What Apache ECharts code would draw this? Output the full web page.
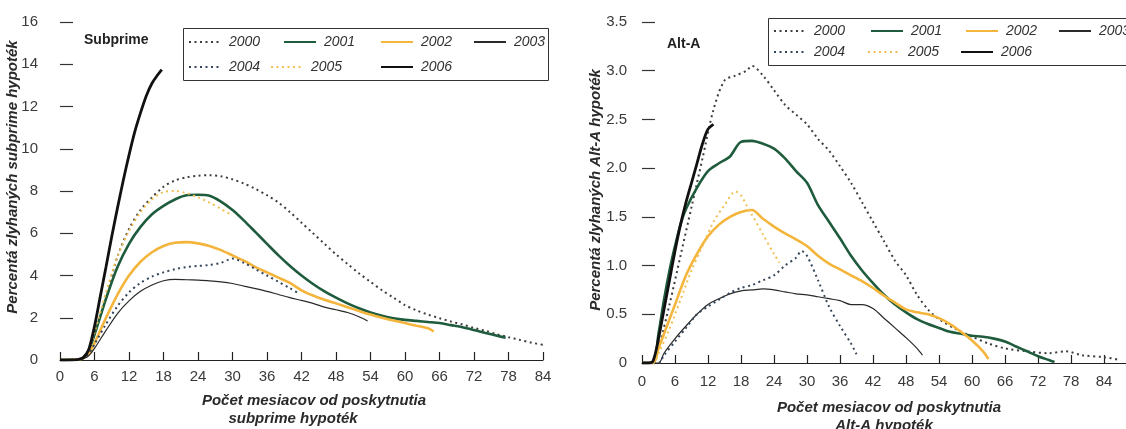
<!DOCTYPE html>
<html>
<head>
<meta charset="utf-8">
<script src="https://cdn.jsdelivr.net/npm/echarts@6/dist/echarts.min.js"></script>
<style>
  html, body { margin: 0; padding: 0; background: #fff; }
  #chart { width: 1126px; height: 429px; }
</style>
</head>
<body>
<div id="chart"></div>
<script>
// vintages (legend order)
const years = ['2000', '2001', '2002', '2003', '2004', '2005', '2006']
const monthTicks = [0, 6, 12, 18, 24, 30, 36, 42, 48, 54, 60, 66, 72, 78, 84]

// subprime: [months since origination, % defaulted]
const sub2000 = [[0,0],[3,0.02],[4,0.1],[5,0.5],[6,1.2],[8,3.0],[10,4.9],[12,6.2],[14,7.1],[16,7.7],[18,8.2],[20,8.5],[22,8.65],[24,8.72],[26,8.75],[28,8.7],[30,8.55],[32,8.35],[34,8.1],[36,7.8],[38,7.45],[40,7.0],[42,6.5],[44,6.0],[46,5.5],[48,5.0],[50,4.55],[52,4.1],[54,3.7],[56,3.3],[58,2.95],[60,2.6],[62,2.35],[64,2.15],[66,1.98],[68,1.82],[70,1.68],[72,1.52],[74,1.38],[76,1.22],[78,1.08],[80,0.95],[82,0.82],[84,0.72]]
const sub2001 = [[0,0],[3,0.02],[4,0.1],[5,0.45],[6,1.2],[8,2.9],[10,4.4],[12,5.5],[14,6.3],[16,6.9],[18,7.3],[20,7.6],[22,7.8],[24,7.82],[26,7.78],[28,7.5],[30,7.1],[32,6.6],[34,6.05],[36,5.5],[38,4.95],[40,4.45],[42,4.0],[44,3.6],[46,3.25],[48,2.95],[50,2.68],[52,2.45],[54,2.25],[56,2.1],[58,1.98],[60,1.9],[62,1.85],[64,1.8],[66,1.75],[68,1.65],[70,1.55],[72,1.42],[74,1.28],[76,1.15],[77.5,1.05]]
const sub2002 = [[0,0],[3,0.02],[4,0.08],[5,0.3],[6,0.8],[8,2.0],[10,3.1],[12,4.0],[14,4.65],[16,5.1],[18,5.4],[20,5.55],[22,5.58],[24,5.52],[26,5.4],[28,5.2],[30,4.95],[32,4.7],[34,4.4],[36,4.15],[38,3.9],[40,3.65],[42,3.3],[44,3.05],[46,2.85],[48,2.68],[50,2.5],[52,2.32],[54,2.15],[56,2.0],[58,1.87],[60,1.75],[62,1.62],[64,1.5],[65,1.35]]
const sub2003 = [[0,0],[3,0.02],[4,0.06],[5,0.2],[6,0.55],[8,1.4],[10,2.2],[12,2.8],[14,3.25],[16,3.55],[18,3.75],[20,3.82],[22,3.8],[24,3.78],[26,3.75],[28,3.7],[30,3.62],[32,3.5],[34,3.38],[36,3.25],[38,3.1],[40,2.95],[42,2.82],[44,2.68],[46,2.5],[48,2.38],[50,2.25],[52,2.05],[53.5,1.85]]
const sub2004 = [[0,0],[3,0.02],[4,0.08],[5,0.3],[6,0.75],[8,1.7],[10,2.55],[12,3.2],[14,3.65],[16,3.95],[18,4.15],[20,4.3],[22,4.4],[24,4.45],[26,4.5],[28,4.6],[30,4.8],[32,4.6],[34,4.3],[36,4.0],[38,3.7],[40,3.4],[41.5,3.15]]
const sub2005 = [[0,0],[3,0.02],[4,0.1],[5,0.5],[6,1.3],[8,3.2],[10,4.9],[12,6.1],[14,7.0],[16,7.6],[18,7.95],[20,8.0],[22,7.9],[24,7.7],[26,7.45],[28,7.15],[30,6.85]]
const sub2006 = [[0,0],[3,0.02],[4,0.1],[5,0.5],[6,1.6],[7,3.0],[8,4.4],[9,5.85],[10,7.2],[11,8.5],[12,9.7],[13,10.8],[14,11.7],[15,12.5],[16,13.1],[17,13.5],[17.7,13.75]]

// Alt-A
const alt2000 = [[0,0],[2,0],[3,0.15],[5,0.6],[7,1.1],[9,1.6],[11,2.1],[13,2.6],[15,2.9],[17,2.95],[19,3.0],[20,3.05],[22,2.95],[24,2.8],[26,2.65],[28,2.55],[30,2.45],[32,2.3],[34,2.18],[36,2.02],[38,1.85],[40,1.65],[42,1.45],[44,1.25],[46,1.05],[48,0.9],[50,0.7],[52,0.55],[54,0.45],[57,0.35],[60,0.27],[63,0.2],[66,0.15],[70,0.12],[74,0.1],[77,0.12],[80,0.08],[84,0.06],[87,0.03]]
const alt2001 = [[0,0],[2,0],[3,0.3],[4,0.65],[5,0.95],[6,1.2],[7,1.42],[8,1.58],[10,1.8],[12,1.97],[14,2.05],[16,2.12],[18,2.27],[20,2.28],[22,2.25],[24,2.2],[26,2.1],[28,1.97],[30,1.85],[32,1.62],[34,1.45],[36,1.28],[38,1.1],[40,0.95],[42,0.82],[44,0.7],[46,0.6],[48,0.52],[50,0.45],[52,0.4],[54,0.36],[56,0.32],[58,0.3],[60,0.28],[62,0.27],[64,0.25],[66,0.22],[68,0.17],[70,0.12],[72,0.07],[74,0.03],[75,0.01]]
const alt2002 = [[0,0],[2,0],[3,0.15],[4,0.3],[6,0.6],[8,0.9],[10,1.12],[12,1.3],[14,1.42],[16,1.5],[18,1.55],[20,1.57],[22,1.48],[24,1.4],[26,1.33],[28,1.27],[30,1.2],[32,1.1],[34,1.02],[36,0.96],[38,0.9],[40,0.84],[42,0.77],[44,0.69],[46,0.62],[48,0.55],[50,0.52],[52,0.5],[54,0.46],[56,0.4],[58,0.32],[60,0.23],[62,0.12],[63,0.04]]
const alt2003 = [[0,0],[3,0],[4,0.1],[6,0.25],[8,0.38],[10,0.5],[12,0.6],[14,0.66],[16,0.71],[18,0.74],[20,0.75],[22,0.76],[24,0.75],[26,0.73],[28,0.71],[30,0.7],[32,0.68],[34,0.66],[36,0.64],[38,0.6],[40,0.6],[42,0.56],[44,0.46],[46,0.36],[48,0.26],[50,0.15],[51,0.08]]
const alt2004 = [[0,0],[3,0],[4,0.08],[6,0.22],[8,0.36],[10,0.5],[12,0.58],[14,0.65],[16,0.72],[18,0.77],[20,0.8],[22,0.85],[24,0.9],[26,1.0],[28,1.08],[29,1.15],[30,1.1],[32,0.85],[34,0.58],[36,0.38],[38,0.2],[39,0.09]]
const alt2005 = [[0,0],[2,0],[3,0.1],[5,0.35],[7,0.65],[9,0.95],[11,1.2],[13,1.45],[15,1.62],[17,1.76],[18,1.72],[19,1.62],[20,1.52],[22,1.32],[24,1.12],[25,1.03]]
const alt2006 = [[0,0],[1,0],[2,0.02],[3,0.25],[4,0.55],[5,0.85],[6,1.15],[7,1.42],[8,1.65],[9,1.85],[10,2.05],[11,2.25],[12,2.4],[13,2.45]]

const subData = [sub2000, sub2001, sub2002, sub2003, sub2004, sub2005, sub2006]
const altData = [alt2000, alt2001, alt2002, alt2003, alt2004, alt2005, alt2006]

const dots = [2, 3.5]
const styles = {
  '2000': { color: '#3d3d3d', width: 2,   type: dots },
  '2001': { color: '#1f5c3d', width: 2.6, type: 'solid' },
  '2002': { color: '#f4b53c', width: 2.6, type: 'solid' },
  '2003': { color: '#2a2a2a', width: 1.2, type: 'solid' },
  '2004': { color: '#34455a', width: 2,   type: dots },
  '2005': { color: '#f2c052', width: 2,   type: dots },
  '2006': { color: '#111111', width: 2.8, type: 'solid' }
}

const narrow = "'Liberation Sans Narrow', 'Liberation Sans', Arial, sans-serif"
const sans = "'Liberation Sans', Arial, sans-serif"

const xAxisBase = (gi, max, margin) => ({
  gridIndex: gi, type: 'value', min: 0, max, interval: 6,
  axisLine: { lineStyle: { color: '#222', width: 1.2 } },
  axisTick: { inside: true, length: 8, customValues: monthTicks, lineStyle: { color: '#222', width: 1.2 } },
  axisLabel: { customValues: monthTicks, margin, fontSize: 15, color: '#3a3a3a', fontFamily: narrow },
  splitLine: { show: false }
})

const yAxisBase = (gi, max, interval, margin, fmt) => ({
  gridIndex: gi, type: 'value', min: 0, max, interval,
  axisLine: { show: false },
  axisTick: { show: true, inside: true, length: 13, lineStyle: { color: '#333', width: 1.2 } },
  axisLabel: { margin, fontSize: 15, color: '#3a3a3a', fontFamily: narrow, formatter: fmt },
  splitLine: { show: false }
})

const makeSeries = (dataList, gi) => dataList.map((d, i) => {
  const st = styles[years[i]]
  return {
    name: years[i], type: 'line', xAxisIndex: gi, yAxisIndex: gi,
    data: d, smooth: 0.3, symbol: 'none', silent: true,
    lineStyle: { color: st.color, width: st.width, type: st.type, cap: 'butt' },
    itemStyle: { color: st.color },
    z: years[i] === '2006' ? 5 : 3
  }
})

// legend item anchors [x, rowCenterY]
const legendPos = [
  { '2000': [188, 43], '2001': [283, 43], '2002': [380, 43], '2003': [473, 43],
    '2004': [188, 68], '2005': [270, 68], '2006': [380, 68] },
  { '2000': [773, 32], '2001': [870, 32], '2002': [965, 32], '2003': [1058, 32],
    '2004': [773, 53], '2005': [867, 53], '2006': [960, 53] }
]
const legends = []
legendPos.forEach(pos => {
  years.forEach(y => {
    legends.push({
      data: [y], left: pos[y][0], top: pos[y][1] - 8, padding: 0,
      itemWidth: 32, itemHeight: 10, selectedMode: false,
      itemStyle: { color: 'rgba(0,0,0,0)', borderColor: 'rgba(0,0,0,0)', borderWidth: 0, opacity: 0 },
      textStyle: { fontSize: 14, fontStyle: 'italic', color: '#333', fontFamily: sans, padding: [0, 0, 0, 3] }
    })
  })
})

const nameFont = `italic bold 15px ${sans}`
const txt = (text, x, y, rotation = 0) => ({
  type: 'text', x, y, rotation, silent: true,
  style: { text, align: 'center', verticalAlign: 'middle', font: nameFont, fill: '#2a2a2a' }
})

const chart = echarts.init(document.getElementById('chart'), null, { renderer: 'canvas' })
chart.setOption({
  backgroundColor: '#fff',
  animation: false,
  grid: [
    { left: 60, right: 583, top: 22, bottom: 69 },
    { left: 642, right: 0, top: 22, bottom: 66 }
  ],
  xAxis: [xAxisBase(0, 84, 9), xAxisBase(1, 88, 11)],
  yAxis: [
    yAxisBase(0, 16, 2, 22),
    yAxisBase(1, 3.5, 0.5, 15, v => (v === 0 ? '0' : v.toFixed(1)))
  ],
  legend: legends,
  graphic: [
    { type: 'rect', shape: { x: 183.5, y: 28.5, width: 365, height: 52 }, style: { fill: 'none', stroke: '#333', lineWidth: 1 }, silent: true },
    { type: 'rect', shape: { x: 768.5, y: 18.5, width: 380, height: 47 }, style: { fill: 'none', stroke: '#333', lineWidth: 1 }, silent: true },
    { type: 'text', left: 84, top: 33, silent: true, style: { text: 'Subprime', font: `bold 14px ${narrow}`, fill: '#222' } },
    { type: 'text', left: 667, top: 37, silent: true, style: { text: 'Alt-A', font: `bold 14px ${narrow}`, fill: '#222' } },
    txt('Percentá zlyhaných subprime hypoték', 13, 177, Math.PI / 2),
    txt('Percentá zlyhaných Alt-A hypoték', 596, 190, Math.PI / 2),
    txt('Počet mesiacov od poskytnutia', 314, 401),
    txt('subprime hypoték', 293, 419),
    txt('Počet mesiacov od poskytnutia', 889, 408),
    txt('Alt-A hypoték', 884, 426)
  ],
  series: [...makeSeries(subData, 0), ...makeSeries(altData, 1)]
})
</script>
</body>
</html>
